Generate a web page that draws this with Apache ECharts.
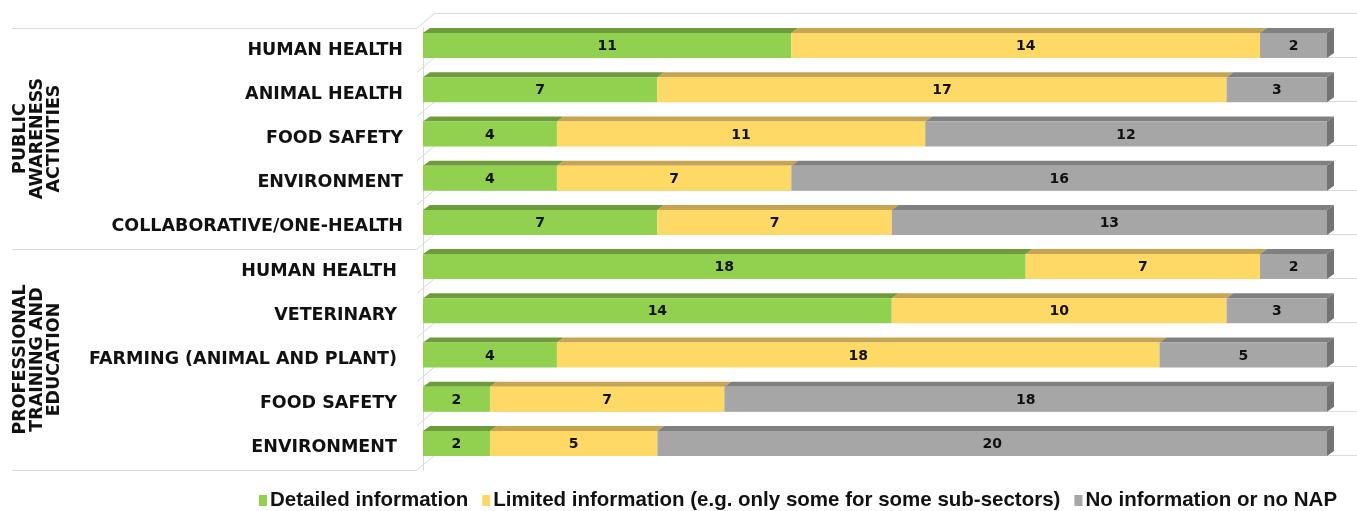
<!DOCTYPE html>
<html>
<head>
<meta charset="utf-8">
<script src="https://cdn.jsdelivr.net/npm/echarts@6/dist/echarts.min.js"></script>
<style>
  html, body { margin: 0; padding: 0; background: #fff; }
  #chart { width: 1357px; height: 511px; }
</style>
</head>
<body>
<div id="chart"></div>
<script>
const categories = [
  'HUMAN HEALTH', 'ANIMAL HEALTH', 'FOOD SAFETY', 'ENVIRONMENT', 'COLLABORATIVE/ONE-HEALTH',
  'HUMAN HEALTH', 'VETERINARY', 'FARMING (ANIMAL AND PLANT)', 'FOOD SAFETY', 'ENVIRONMENT'
];
const groups = ['PUBLIC\nAWARENESS\nACTIVITIES', 'PROFESSIONAL\nTRAINING AND\nEDUCATION'];
const seriesNames = [
  'Detailed information',
  'Limited information (e.g. only some for some sub-sectors)',
  'No information or no NAP'
];
const detailed = [11, 7, 4, 4, 7, 18, 14, 4, 2, 2];
const limited = [14, 17, 11, 7, 7, 7, 10, 18, 7, 5];
const noInfo = [2, 3, 12, 16, 13, 2, 3, 5, 18, 20];

const values = [detailed, limited, noInfo];
const fronts = ['#92D050', '#FFD966', '#A6A6A6'];
const tops = ['#6E9B3B', '#C7A452', '#808080'];
const ends = ['#5E8A30', '#B08F40', '#737373'];
const wallColor = '#D9D9D9';
const DX = 7, DY = 5;

// stacked segments [start, end, categoryIndex, value]
const segData = values.map((vals, s) => vals.map((v, i) => {
  let start = 0;
  for (let k = 0; k < s; k++) start += values[k][i];
  return [start, start + v, i, v];
}));
const totals = categories.map((c, i) => values.reduce((a, vals) => a + vals[i], 0));

function makeSegRender(s) {
  return function (params, api) {
    const cat = api.value(2);
    const p0 = api.coord([api.value(0), cat]);
    const p1 = api.coord([api.value(1), cat]);
    const band = api.size([0, 1])[1];
    const y0 = p0[1] - band * 0.385;
    const h = band * 0.566;
    const x0 = p0[0], x1 = p1[0];
    const children = [
      { type: 'polygon', shape: { points: [[x0, y0], [x0 + DX, y0 - DY], [x1 + DX, y0 - DY], [x1, y0]] },
        style: { fill: tops[s] } },
      { type: 'rect', shape: { x: x0, y: y0, width: x1 - x0, height: h }, style: { fill: fronts[s] } }
    ];
    if (api.value(1) === totals[cat]) {
      children.push({ type: 'polygon',
        shape: { points: [[x1, y0], [x1 + DX, y0 - DY], [x1 + DX, y0 + h - DY], [x1, y0 + h]] },
        style: { fill: ends[s] } });
    }
    children.push({ type: 'text', style: {
      text: String(api.value(3)), x: (x0 + x1) / 2, y: y0 + h / 2 + 1,
      align: 'center', verticalAlign: 'middle', fill: '#111',
      font: 'bold 14px "DejaVu Sans", sans-serif' } });
    return { type: 'group', children };
  };
}

function renderWall(params, api) {
  const i = api.value(0);
  const c = api.coord([0, i]);
  const band = api.size([0, 1])[1];
  const x = c[0] - 6;
  const ys = [c[1] - band / 2];
  if (i === categories.length - 1) ys.push(c[1] + band / 2);
  return { type: 'group', children: ys.map(y => ({
    type: 'line', shape: { x1: x, y1: y, x2: x + 18, y2: y - 15 },
    style: { stroke: wallColor, lineWidth: 1 } })) };
}

const chart = echarts.init(document.getElementById('chart'));
chart.setOption({
  animation: false,
  backgroundColor: '#fff',
  grid: [
    { left: 423, right: 30, top: 28, bottom: 41 },
    { left: 435, right: 0, top: 13, bottom: 56 }
  ],
  legend: {
    left: 254, top: 485, itemGap: 14,
    icon: 'rect', itemWidth: 8, itemHeight: 11,
    textStyle: { fontFamily: '"Liberation Sans", Arial, sans-serif', fontWeight: 'bold', fontSize: 20.5, color: '#111', padding: [0, 0, 0, -2] },
    data: seriesNames
  },
  xAxis: [
    { type: 'value', gridIndex: 0, min: 0, max: 27, show: false },
    { type: 'value', gridIndex: 1, min: 0, max: 1, show: false }
  ],
  yAxis: [
    { type: 'category', gridIndex: 0, data: categories, inverse: true, offset: 6,
      axisLine: { show: true, lineStyle: { color: wallColor, width: 1 } },
      axisTick: { show: false }, splitLine: { show: false },
      axisLabel: { margin: 14, color: '#111', fontFamily: '"DejaVu Sans", sans-serif', fontWeight: 'bold', fontSize: 17.5,
        formatter: (v, i) => i >= 5 ? v + ' ' : v } },
    { type: 'category', gridIndex: 0, data: groups, inverse: true, offset: 6, position: 'left',
      axisLine: { show: false },
      axisTick: { show: true, length: 405, interval: 0, lineStyle: { color: wallColor, width: 1 } },
      splitLine: { show: false },
      axisLabel: { rotate: 90, margin: 354, interval: 0, color: '#111', fontFamily: '"DejaVu Sans", sans-serif', fontWeight: 'bold',
        fontSize: 17.5, lineHeight: 17 } },
    { type: 'category', gridIndex: 1, data: categories, inverse: true,
      axisLine: { show: false }, axisTick: { show: false }, axisLabel: { show: false },
      splitLine: { show: true, interval: 0, lineStyle: { color: wallColor, width: 1 } } }
  ],
  series: [
    { type: 'custom', name: 'wall', xAxisIndex: 0, yAxisIndex: 0, silent: true, z: 1,
      renderItem: renderWall, data: categories.map((c, i) => [i]), encode: { y: 0 } }
  ].concat(seriesNames.map((name, s) => ({
    type: 'custom', name, xAxisIndex: 0, yAxisIndex: 0, z: 3 + s,
    itemStyle: { color: fronts[s] },
    renderItem: makeSegRender(s),
    encode: { x: [0, 1], y: 2 },
    data: segData[s]
  })))
});
</script>
</body>
</html>
